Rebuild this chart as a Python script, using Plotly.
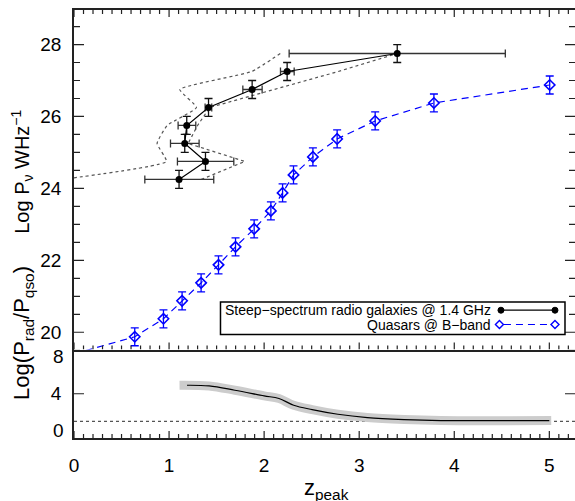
import plotly.graph_objects as go

# ---------------- data ----------------
# Steep-spectrum radio galaxies @ 1.4 GHz
radio_z = [1.105, 1.383, 1.165, 1.186, 1.415, 1.874, 2.242, 3.40]
radio_logP = [24.25, 24.75, 25.25, 25.75, 26.25, 26.75, 27.25, 27.75]
radio_z_lo = [0.745, 1.088, 1.015, 1.095, 1.379, 1.776, 2.172, 2.263]
radio_z_hi = [1.470, 1.681, 1.316, 1.281, 1.449, 1.979, 2.316, 4.537]
radio_logP_err = [0.25, 0.25, 0.25, 0.25, 0.25, 0.25, 0.25, 0.25]

# dotted envelope (left / right bounds)
env_left_z = [-0.13, 0.972, 0.874, 0.98, 1.288, 1.113, 1.87, 2.17]
env_left_logP = [24.25, 24.75, 25.25, 25.75, 26.25, 26.75, 27.25, 27.75]
env_right_z = [1.34, 1.797, 1.20, 1.30, 1.428, 2.10, 2.78, 3.40]
env_right_logP = [24.25, 24.75, 25.25, 25.75, 26.25, 26.75, 27.25, 27.75]

# Quasars @ B-band
qso_z = [0.639, 0.941, 1.137, 1.337, 1.520, 1.699, 1.895, 2.071, 2.194,
         2.309, 2.513, 2.768, 3.168, 3.786, 5.004]
qso_logP = [19.875, 20.375, 20.875, 21.375, 21.875, 22.375, 22.875, 23.375,
            23.875, 24.375, 24.875, 25.375, 25.875, 26.375, 26.875]
qso_logP_err = [0.25] * 15
# dashed model curve continues below the plotted range
qso_curve_z = [0.0] + qso_z
qso_curve_logP = [19.4] + qso_logP

# bottom panel: Log(P_rad / P_qso)
ratio_z = [1.189, 1.421, 1.692, 2.0, 2.156, 2.311, 2.505, 2.776, 3.086, 3.473, 3.86, 5.0]
ratio_val = [4.77, 4.71, 4.32, 3.81, 3.57, 2.96, 2.57, 2.15, 1.85, 1.67, 1.58, 1.58]
band_z = [1.11, 1.421, 1.692, 2.0, 2.156, 2.311, 2.505, 2.776, 3.086, 3.473, 3.86, 5.02]
band_val = [4.78, 4.71, 4.32, 3.81, 3.57, 2.96, 2.57, 2.15, 1.85, 1.67, 1.58, 1.58]
ref_level = 1.5

x_ticks = [0, 1, 2, 3, 4, 5]
x_minor_ticks = [round(i * 0.1, 1) for i in range(1, 53) if i % 10 != 0]
top_y_ticks = [20, 22, 24, 26, 28]
top_y_minor_ticks = [19.5, 20.5, 21, 21.5, 22.5, 23, 23.5, 24.5, 25, 25.5,
                     26.5, 27, 27.5, 28.5]
bottom_y_ticks = [4]

legend_labels = ["Steep\u2212spectrum radio galaxies @ 1.4 GHz", "Quasars @ B\u2212band"]

# ---------------- layout constants ----------------
W, H = 575, 501
L, R, T, B = 74.3, 0.0, 10.0, 63.3
plot_w = W - L - R
plot_h = H - T - B
split = (437.7 - 349.3) / plot_h
FONT = "Liberation Sans, Arial, sans-serif"
BLUE = "#0000ff"
TICKC = "#222"
X_RANGE = [0, 5.27]
TOP_Y_RANGE = [19.52, 28.96]
BOT_Y_RANGE = [0, 8]

# pixel scales used to express tick lengths in axis units
px_per_x = plot_w / (X_RANGE[1] - X_RANGE[0])
top_h = plot_h * (1 - split)
bot_h = plot_h * split
px_per_top_y = top_h / (TOP_Y_RANGE[1] - TOP_Y_RANGE[0])
px_per_bot_y = bot_h / (BOT_Y_RANGE[1] - BOT_Y_RANGE[0])


def px_x(px):
    return (px - L) / plot_w


def px_y(py):
    return (H - B - py) / plot_h


fig = go.Figure()

# envelope
fig.add_trace(go.Scatter(x=env_left_z, y=env_left_logP, mode="lines",
                         line=dict(color="#555", width=1.2, dash="dot", shape="spline",
                                   smoothing=0.4),
                         xaxis="x", yaxis="y", showlegend=False))
fig.add_trace(go.Scatter(x=env_right_z, y=env_right_logP, mode="lines",
                         line=dict(color="#555", width=1.2, dash="dot"),
                         xaxis="x", yaxis="y", showlegend=False))

# quasar dashed curve
fig.add_trace(go.Scatter(x=qso_curve_z, y=qso_curve_logP, mode="lines",
                         line=dict(color=BLUE, width=1.2, dash="7px,5px"),
                         xaxis="x", yaxis="y", showlegend=False))
# quasar points
fig.add_trace(go.Scatter(x=qso_z, y=qso_logP, mode="markers",
                         marker=dict(symbol="diamond-open", size=8, color=BLUE,
                                     line=dict(width=1.6, color=BLUE)),
                         error_y=dict(type="data", array=qso_logP_err, color=BLUE,
                                      thickness=1.3, width=4),
                         xaxis="x", yaxis="y", showlegend=False, cliponaxis=False))

# radio galaxies
ex_plus = [h - z for h, z in zip(radio_z_hi, radio_z)]
ex_minus = [z - l for l, z in zip(radio_z_lo, radio_z)]
fig.add_trace(go.Scatter(x=radio_z, y=radio_logP, mode="lines+markers",
                         line=dict(color="black", width=1.2),
                         marker=dict(symbol="circle", size=7, color="black"),
                         error_x=dict(type="data", symmetric=False, array=ex_plus,
                                      arrayminus=ex_minus, color="#333",
                                      thickness=1.3, width=4),
                         error_y=dict(type="data", array=radio_logP_err, color="#111",
                                      thickness=1.3, width=4),
                         xaxis="x", yaxis="y", showlegend=False))

# bottom panel
fig.add_trace(go.Scatter(x=X_RANGE, y=[ref_level, ref_level], mode="lines",
                         line=dict(color="#555", width=1.1, dash="dot"),
                         xaxis="x2", yaxis="y2", showlegend=False))
fig.add_trace(go.Scatter(x=band_z, y=band_val, mode="lines",
                         line=dict(color="#cccccc", width=9, shape="spline"),
                         xaxis="x2", yaxis="y2", showlegend=False))
fig.add_trace(go.Scatter(x=ratio_z, y=ratio_val, mode="lines",
                         line=dict(color="black", width=1.2, shape="spline"),
                         xaxis="x2", yaxis="y2", showlegend=False))

base = dict(showgrid=False, zeroline=False, ticks="",
            tickfont=dict(family=FONT, size=19, color="black"))
frame = dict(showline=True, linecolor="#222", linewidth=1.5)

fig.update_layout(
    width=W, height=H,
    margin=dict(l=L, r=R, t=T, b=B, autoexpand=False),
    paper_bgcolor="white", plot_bgcolor="white",
    font=dict(family=FONT, color="black"),
    xaxis=dict(domain=[0, 1], anchor="y", range=X_RANGE, tickvals=x_ticks,
               showticklabels=False, mirror=True, **frame, **base),
    yaxis=dict(domain=[split, 1], anchor="x", range=TOP_Y_RANGE,
               tickvals=top_y_ticks, ticklabelstandoff=7, mirror=True, **frame, **base),
    xaxis2=dict(domain=[0, 1], anchor="y2", range=X_RANGE, tickvals=x_ticks,
                ticklabelstandoff=9, **frame, **base),
    yaxis2=dict(domain=[0, split], anchor="x2", range=BOT_Y_RANGE,
                tickvals=bottom_y_ticks, ticklabelstandoff=7, mirror=True, **frame, **base),
)

# ---- inward tick marks (drawn as shapes in axis units) ----
tick_line = dict(color=TICKC, width=1.2)


def xtick(xref, yref, xv, y_edge, length_units):
    fig.add_shape(type="line", xref=xref, yref=yref, x0=xv, x1=xv,
                  y0=y_edge, y1=y_edge + length_units, line=tick_line, layer="above")


def ytick(xref, yref, yv, x_edge, length_units):
    fig.add_shape(type="line", xref=xref, yref=yref, x0=x_edge, x1=x_edge + length_units,
                  y0=yv, y1=yv, line=tick_line, layer="above")


# top panel x ticks: bottom edge (pointing up) and top edge (pointing down)
for xv in x_ticks + x_minor_ticks:
    ln = (7 if xv in x_ticks else 4) / px_per_top_y
    xtick("x", "y", xv, TOP_Y_RANGE[0], ln)
    xtick("x", "y", xv, TOP_Y_RANGE[1], -ln)
# bottom panel x ticks: bottom edge only
for xv in x_ticks + x_minor_ticks:
    ln = (7 if xv in x_ticks else 4) / px_per_bot_y
    xtick("x2", "y2", xv, BOT_Y_RANGE[0], ln)
# top panel y ticks: left and right
for yv in top_y_ticks + top_y_minor_ticks:
    ln = (10 if yv in top_y_ticks else 6) / px_per_x
    ytick("x", "y", yv, X_RANGE[0], ln)
    ytick("x", "y", yv, X_RANGE[1], -ln)
# bottom panel y ticks
for yv in bottom_y_ticks:
    ln = 10 / px_per_x
    ytick("x2", "y2", yv, X_RANGE[0], ln)
    ytick("x2", "y2", yv, X_RANGE[1], -ln)

# bottom-panel edge tick labels (shifted inward as in the reference)
for val, txt in [(0.7, "0"), (7.33, "8")]:
    fig.add_annotation(x=px_x(66.5), xref="paper", y=val, yref="y2", text=txt,
                       showarrow=False, xanchor="right", yanchor="middle",
                       font=dict(family=FONT, size=19, color="black"))

# axis titles
fig.add_annotation(x=px_x(22), xref="paper", y=px_y(172), yref="paper",
                   text="Log P<sub>\u03bd</sub> WHz<sup>\u22121</sup>", textangle=-90,
                   showarrow=False, xanchor="center", yanchor="middle",
                   font=dict(family=FONT, size=20, color="black"))
fig.add_annotation(x=px_x(24), xref="paper", y=px_y(333), yref="paper",
                   text="Log(P<sub>rad</sub>/P<sub>qso</sub>)", textangle=-90,
                   showarrow=False, xanchor="center", yanchor="middle",
                   font=dict(family=FONT, size=22, color="black"))
fig.add_annotation(x=px_x(327), xref="paper", y=px_y(489), yref="paper",
                   text="z<sub>peak</sub>", showarrow=False,
                   xanchor="center", yanchor="middle",
                   font=dict(family=FONT, size=22, color="black"))

# legend box, samples and labels (paper coordinates)
leg_x0, leg_x1 = 501, 555
leg_rows = [310, 324.3]
fig.add_shape(type="rect", xref="paper", yref="paper",
              x0=px_x(220.7), x1=px_x(565), y0=px_y(334.3), y1=px_y(301.7),
              line=dict(color="black", width=1.5), fillcolor="rgba(0,0,0,0)",
              layer="above")
fig.add_shape(type="line", xref="paper", yref="paper",
              x0=px_x(leg_x0), x1=px_x(leg_x1), y0=px_y(leg_rows[0]), y1=px_y(leg_rows[0]),
              line=dict(color="black", width=1.2), layer="above")
for cx in (leg_x0, leg_x1):
    fig.add_shape(type="circle", xref="paper", yref="paper",
                  x0=px_x(cx - 3), x1=px_x(cx + 3),
                  y0=px_y(leg_rows[0] + 3), y1=px_y(leg_rows[0] - 3),
                  line=dict(color="black", width=1), fillcolor="black", layer="above")
fig.add_shape(type="line", xref="paper", yref="paper",
              x0=px_x(leg_x0 + 3), x1=px_x(leg_x1 - 3), y0=px_y(leg_rows[1]), y1=px_y(leg_rows[1]),
              line=dict(color=BLUE, width=1.2, dash="7px,5px"), layer="above")
for cx in (leg_x0 - 1.5, leg_x1):
    cy = leg_rows[1]
    pts = [(cx, cy - 4), (cx + 4, cy), (cx, cy + 4), (cx - 4, cy)]
    path = "M " + " L ".join(f"{px_x(a):.5f},{px_y(b):.5f}" for a, b in pts) + " Z"
    fig.add_shape(type="path", xref="paper", yref="paper", path=path,
                  line=dict(color=BLUE, width=1.4), fillcolor="white", layer="above")
for lbl, py in zip(legend_labels, leg_rows):
    fig.add_annotation(x=px_x(493), xref="paper", y=px_y(py), yref="paper",
                       text=lbl, showarrow=False, xanchor="right", yanchor="middle",
                       font=dict(family=FONT, size=14, color="black"))

fig.write_html("out.html", config={"displayModeBar": False},
               post_script="document.body.style.margin='0';")
